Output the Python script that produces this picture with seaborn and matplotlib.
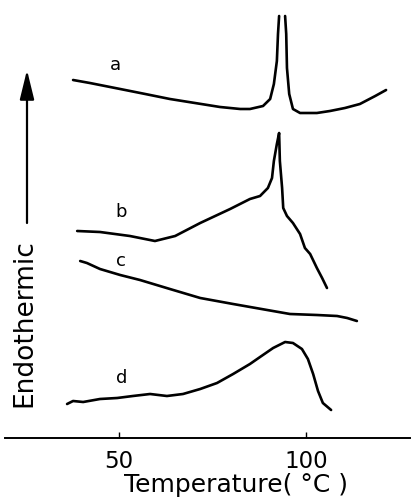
import matplotlib
matplotlib.use("Agg")
import matplotlib.pyplot as plt
import seaborn as sns
import pandas as pd

# ---- data (temperature in °C, signal in arbitrary units above baseline) ----
a_left_T = [37.7, 42.2, 50.3, 57.0, 63.6, 70.3, 77.0, 82.4, 85.0, 88.5, 90.4, 91.4, 92.2, 92.5, 92.8]
a_left_S = [358, 355, 349, 344, 339, 335, 331, 329, 329, 332, 339, 354, 377, 404, 422]
a_right_T = [94.4, 94.7, 94.9, 95.5, 96.5, 98.4, 102.9, 106.4, 110.4, 114.4, 118.5, 121.4]
a_right_S = [422, 404, 370, 344, 329, 325, 325, 327, 330, 334, 342, 348]

b_T = [38.8, 44.9, 52.9, 59.6, 65.0, 71.7, 79.7, 85.0, 87.7, 89.8, 90.9, 91.4, 92.2, 92.8,
       93.0, 93.6, 93.9, 94.9, 96.5, 98.4, 99.7, 101.1, 102.9, 104.3, 105.6]
b_S = [207, 206, 202, 197, 202, 215, 229, 239, 242, 250, 260, 277, 294, 305,
       277, 250, 230, 222, 215, 204, 190, 184, 170, 160, 150]

c_T = [39.6, 41.4, 44.9, 50.3, 55.6, 63.6, 71.7, 80.5, 89.6, 95.7, 102.9, 108.3, 111.0, 113.6]
c_S = [177, 175, 169, 163, 158, 149, 140, 134, 128, 124, 123, 122, 120, 117]

d_T = [36.1, 37.7, 40.4, 44.9, 49.5, 53.7, 58.3, 62.8, 67.1, 71.7, 76.2, 80.5, 85.0, 87.7,
       91.2, 94.4, 96.5, 98.9, 100.5, 101.9, 103.2, 104.5, 106.7]
d_S = [34, 37, 36, 39, 40, 42, 44, 42, 44, 49, 55, 64, 74, 81,
       90, 96, 95, 89, 79, 64, 47, 35, 28]

curve_labels = ["a", "b", "c", "d"]
label_T = [48.9, 50.5, 50.5, 50.8]
label_S = [373, 226, 177, 60]

x_ticks = [50, 100]
x_tick_labels = ["50", "100"]
x_label = "Temperature( °C )"
y_label = "Endothermic"

# ---- build table ----
segments = [("a1", a_left_T, a_left_S), ("a2", a_right_T, a_right_S),
            ("b", b_T, b_S), ("c", c_T, c_S), ("d", d_T, d_S)]
rows = []
for seg, ts, ss in segments:
    for t, s in zip(ts, ss):
        rows.append({"T": t, "S": s, "seg": seg})
df = pd.DataFrame(rows)

sns.set_theme(style="white")
plt.rcParams["font.family"] = ["DejaVu Sans"]
plt.rcParams["text.color"] = "black"
plt.rcParams["xtick.color"] = "black"
plt.rcParams["axes.labelcolor"] = "black"

W, H = 412, 503
fig = plt.figure(figsize=(W / 100, H / 100), dpi=100)
ax = fig.add_axes([5 / W, (H - 438) / H, 405 / W, 438 / H])
ax.set_facecolor("white")

sns.lineplot(data=df, x="T", y="S", units="seg", estimator=None, sort=False,
             color="black", lw=1.9, legend=False, ax=ax)

for lab, t, s in zip(curve_labels, label_T, label_S):
    ax.text(t, s, lab, ha="center", va="center", fontsize=13, color="black")

ax.set_xlim(19.5, 127.8)
ax.set_ylim(0, 438)
for side in ["top", "right", "left"]:
    ax.spines[side].set_visible(False)
ax.spines["bottom"].set_linewidth(1.4)
ax.spines["bottom"].set_color("black")
ax.set_yticks([])
ax.set_xticks(x_ticks)
ax.set_xticklabels(x_tick_labels)
ax.tick_params(axis="x", direction="in", length=4.5, width=1.0, color="black",
               labelcolor="black", pad=9, labelsize=16.5, bottom=True)
ax.set_xlabel("")
ax.set_ylabel("")

fig.text(236 / W, (H - 492) / H, x_label, ha="center", va="baseline",
         fontsize=18, color="black")
fig.text(24 / W, (H - 323) / H, y_label, ha="center", va="center", rotation=90,
         fontsize=19, color="black")

ax.annotate("", xy=(27, H - 70), xytext=(27, H - 223),
            xycoords="figure pixels", textcoords="figure pixels",
            arrowprops=dict(arrowstyle="-|>,head_length=0.9,head_width=0.22",
                            mutation_scale=20, lw=1.6, color="black",
                            shrinkA=0, shrinkB=0))

fig.savefig("out.png", dpi=100, facecolor="white")
